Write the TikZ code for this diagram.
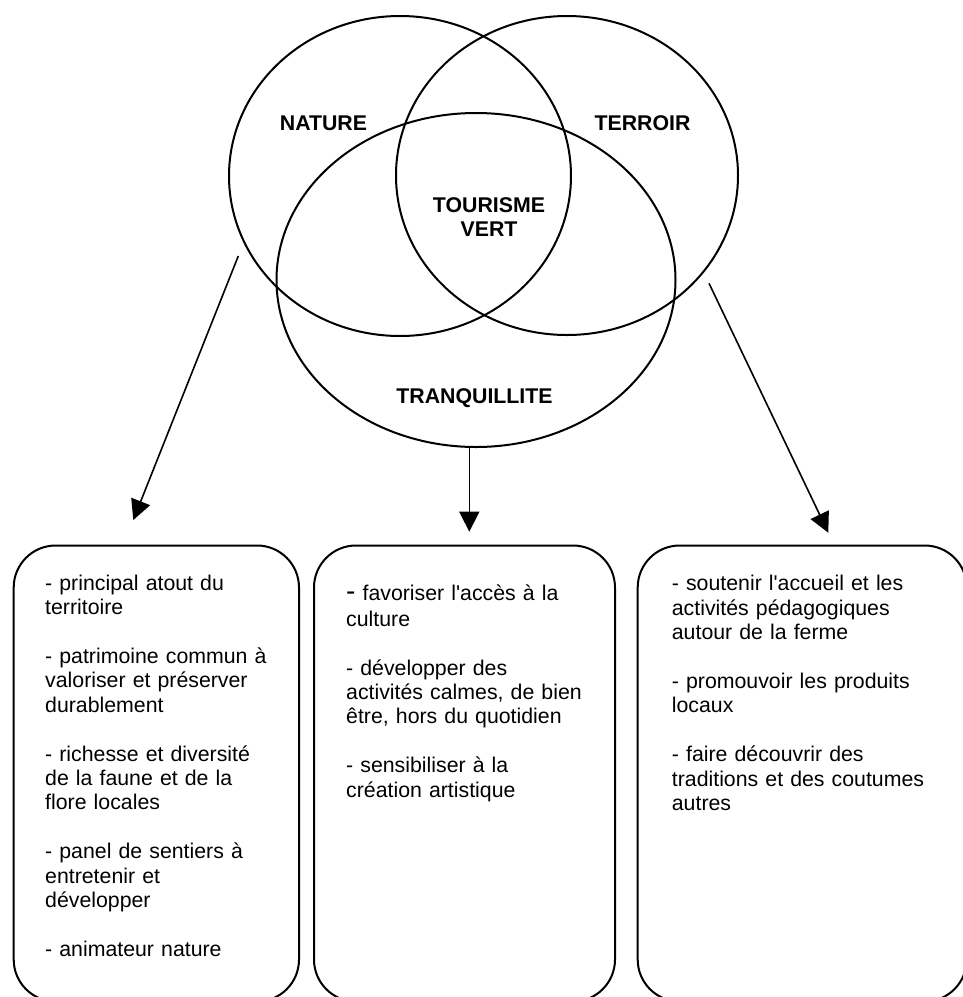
\documentclass[tikz,border=0pt]{standalone}
\usepackage{fontspec}
\setmainfont{Liberation Sans}
\newfontfamily\arial{Liberation Sans}
\usetikzlibrary{arrows.meta,shapes.geometric}
\begin{document}
\begin{tikzpicture}[x=1pt,y=-1pt,
  venn/.style={draw, line width=2pt, ellipse, inner sep=0pt},
  head/.style={font=\arial\fontsize{21.3pt}{24pt}\selectfont\bfseries, inner sep=0pt, align=center},
  boxframe/.style={draw, line width=2pt, rounded corners=42pt, anchor=north west, inner sep=0pt},
  boxtext/.style={font=\arial\fontsize{21.3pt}{24.4pt}\selectfont, anchor=north west, inner sep=0pt, align=left, text width=#1},
  arr/.style={line width=1.6pt, -{Triangle[length=20pt,width=20pt]}}
]
\useasboundingbox (0,0) rectangle (963,997);
\clip (0,0) rectangle (963,997);

% Venn ellipses
\node[venn, minimum width=342pt, minimum height=320pt] (nature) at (400,176) {};
\node[venn, minimum width=342pt, minimum height=319pt] (terroir) at (567,175.5) {};
\node[venn, minimum width=399pt, minimum height=334pt] (tranq) at (476,280) {};

% labels
\node[head] (lnat) at (323.5,123) {NATURE};
\node[head] (lter) at (642.5,123) {TERROIR};
\node[head] (ltv) at (489,217) {TOURISME\\VERT};
\node[head] (ltr) at (474.5,398) {TRANQUILLITE};

% boxes
\node[boxframe, minimum width=285.3pt, minimum height=456pt] (b1) at (12.7,544.5) {};
\node[boxframe, minimum width=301pt, minimum height=456pt] (b2) at (313,544.5) {};
\node[boxframe, minimum width=329pt, minimum height=456pt] (b3) at (636.7,544.5) {};

% box texts
\node[boxtext=245pt] (t1) at (45,574) {\rule{0pt}{16pt}- principal atout du\\ territoire\\[24.4pt] - patrimoine commun à\\ valoriser et préserver\\ durablement\\[24.4pt] - richesse et diversité\\ de la faune et de la\\ flore locales\\[24.4pt] - panel de sentiers à\\ entretenir et\\ développer\\[24.4pt] - animateur nature};

\node[boxtext=260pt] (t2) at (346,584) {\rule{0pt}{16pt}{\fontsize{28pt}{28pt}\selectfont -\ }favoriser l'accès à la\\[1.6pt] culture\\[24.4pt] - développer des\\ activités calmes, de bien\\ être, hors du quotidien\\[24.4pt] - sensibiliser à la\\ création artistique};

\node[boxtext=285pt] (t3) at (671.7,574.7) {\rule{0pt}{16pt}- soutenir l'accueil et les\\ activités pédagogiques\\ autour de la ferme\\[24.4pt] - promouvoir les produits\\ locaux\\[24.4pt] - faire découvrir des\\ traditions et des coutumes\\ autres};

% arrows
\coordinate (a1s) at (238.3,256);
\coordinate (a1e) at (133.3,520);
\coordinate (a2s) at (469.3,447);
\coordinate (a2e) at (469.3,531.7);
\coordinate (a3s) at (709,283.3);
\coordinate (a3e) at (828.3,532.7);
\draw[arr] (a1s) -- (a1e);
\draw[arr] (a2s) -- (a2e);
\draw[arr] (a3s) -- (a3e);
\end{tikzpicture}
\end{document}
